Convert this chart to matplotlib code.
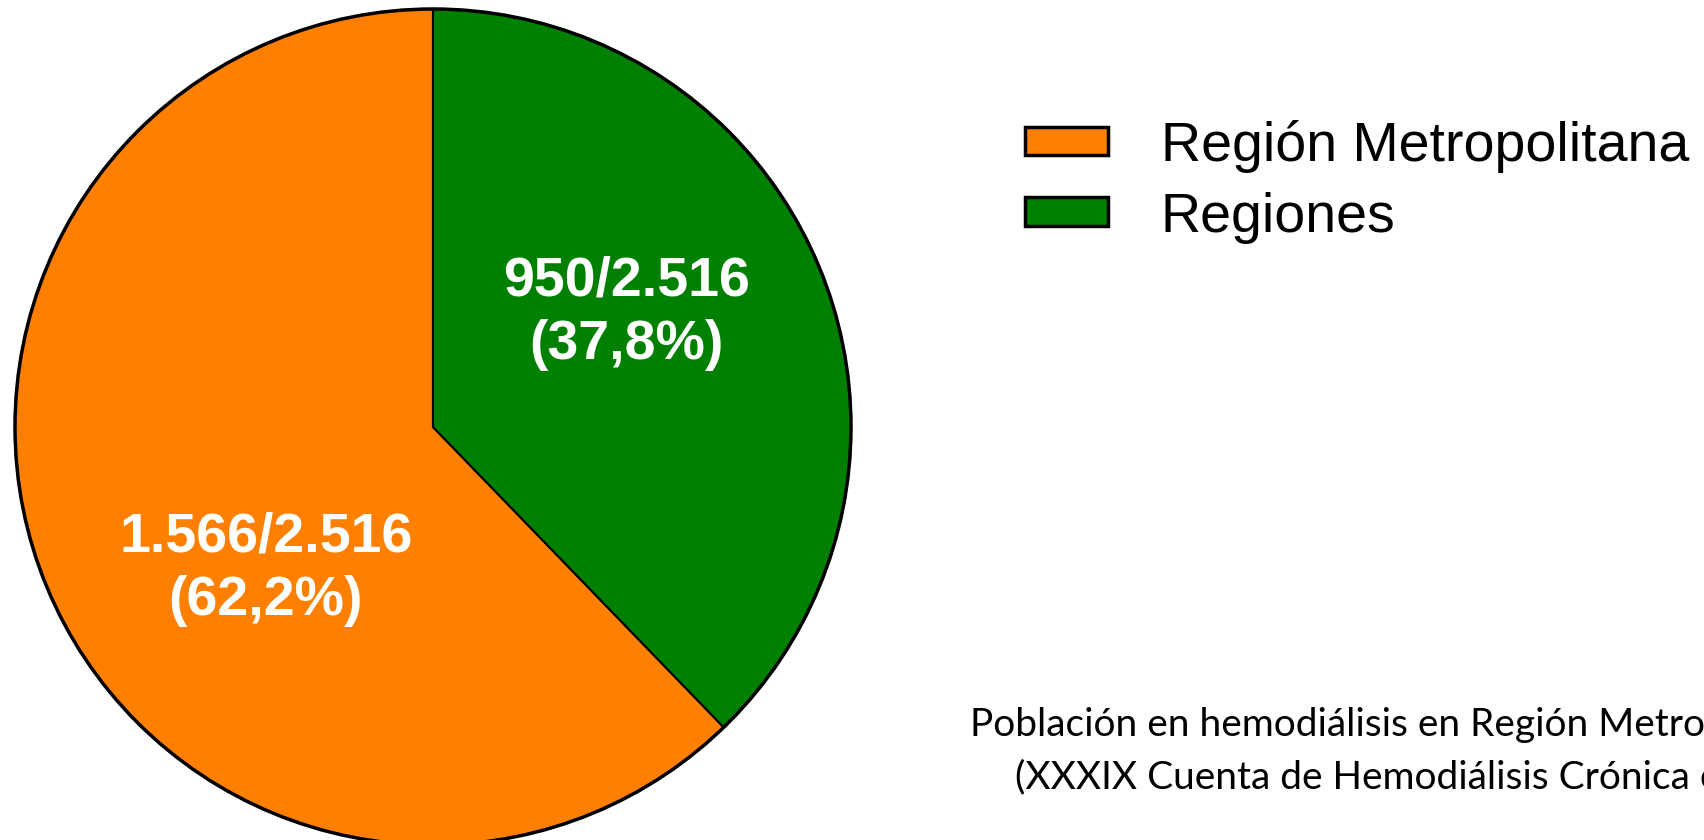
import matplotlib
matplotlib.use("Agg")
import matplotlib.pyplot as plt
from matplotlib.patches import Circle

categories = ["Región Metropolitana", "Regiones"]
values = [1566, 950]
total = 2516
label_texts = ["1.566/2.516\n(62,2%)", "950/2.516\n(37,8%)"]
colors = ["#FF8000", "#008000"]
note_lines = ["Población en hemodiálisis en Región Metropolitana y Regiones",
              "(XXXIX Cuenta de Hemodiálisis Crónica en Chile, 2019)"]

W, H = 1704, 840
fig = plt.figure(figsize=(W / 100, H / 100), dpi=100)
fig.patch.set_facecolor("white")

cx, cy, r = 433, 427, 418
ax = fig.add_axes([(cx - r) / W, (H - cy - r) / H, 2 * r / W, 2 * r / H])
wedges, _ = ax.pie(values, colors=colors, startangle=90, counterclock=True,
                   radius=1.0, wedgeprops=dict(edgecolor="black", linewidth=1.5))
ax.add_patch(Circle((0, 0), 1.0, fill=False, edgecolor="black", linewidth=2.5, clip_on=False))
ax.set_xlim(-1, 1)
ax.set_ylim(-1, 1)
ax.set_aspect("equal")
ax.axis("off")
for w in wedges:
    w.set_clip_on(False)

label_pos = [(-0.40, -0.340), (0.462, 0.272)]
for (x, y), t in zip(label_pos, label_texts):
    ax.text(x, y, t, ha="center", va="center", color="white", fontsize=40,
            fontweight="bold", family="Liberation Sans", linespacing=1.27)

leg = fig.legend(wedges, categories, loc="upper left",
                 bbox_to_anchor=(997 / W, 1 - 92 / H),
                 frameon=False, prop=dict(family="Liberation Sans", size=40),
                 handlelength=1.5, handleheight=0.42, handletextpad=0.95,
                 labelspacing=0.34, borderpad=0.0)
for h in leg.legend_handles:
    h.set_linewidth(2.5)
    h.set_edgecolor("black")

fig.text(970 / W, 1 - 725 / H, note_lines[0], ha="left", va="center",
         fontsize=28, family="Lato")
fig.text(1015 / W, 1 - 777 / H, note_lines[1], ha="left", va="center",
         fontsize=28, family="Lato")

fig.savefig("out.png", dpi=100, facecolor="white")
